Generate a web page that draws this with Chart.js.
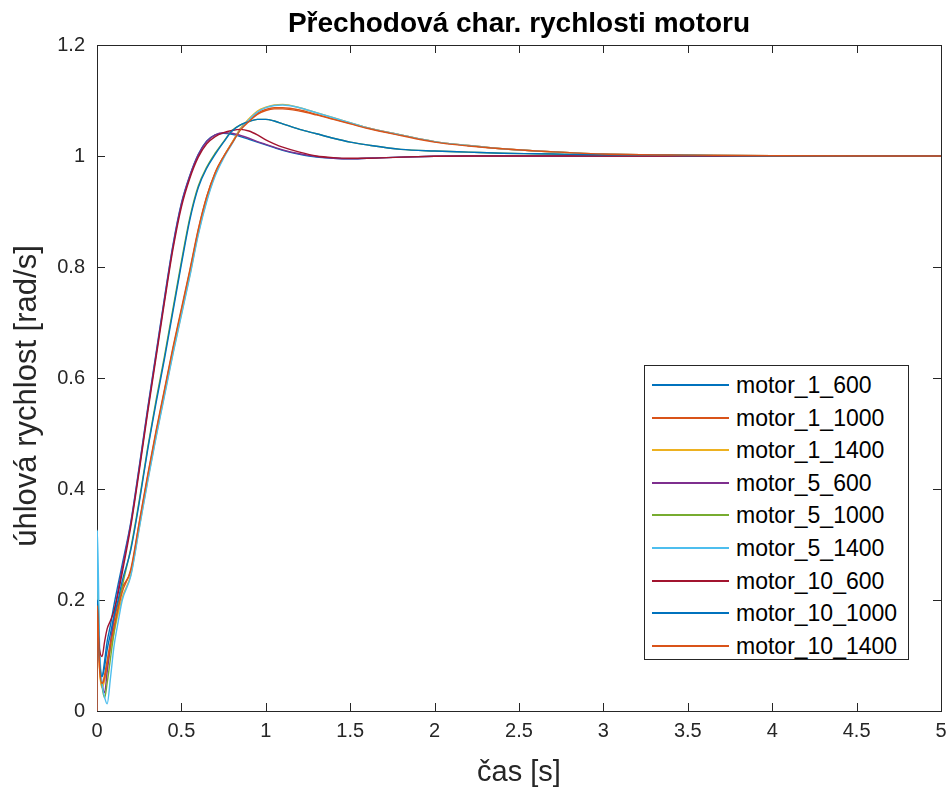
<!DOCTYPE html>
<html><head><meta charset="utf-8">
<script src="https://cdn.jsdelivr.net/npm/chart.js@4/dist/chart.umd.min.js"></script>
<style>
html,body{margin:0;padding:0;background:#fff;}
#wrap{position:relative;width:952px;height:794px;}
#legend{position:absolute;left:644px;top:365px;width:265px;height:295px;box-sizing:border-box;border:1px solid #262626;background:#fff;font-family:"Liberation Sans",Arial,Helvetica,sans-serif;font-size:23px;color:#000;}
.sw{position:absolute;left:7px;width:77px;height:2px;}
.tx{position:absolute;left:91px;line-height:26px;height:26px;white-space:nowrap;}
</style></head><body>
<div id="wrap"><canvas id="c" width="952" height="794"></canvas><div id="legend"></div></div>
<script>
const time = [0, 0.002, 0.015, 0.03, 0.045, 0.06, 0.08, 0.1, 0.125, 0.15, 0.2, 0.25, 0.3, 0.35, 0.4, 0.45, 0.5, 0.55, 0.6, 0.65, 0.7, 0.75, 0.8, 0.85, 0.9, 0.95, 1.0, 1.05, 1.1, 1.2, 1.3, 1.4, 1.5, 1.6, 1.8, 2.0, 2.2, 2.4, 2.6, 2.8, 3.0, 3.5, 4.0, 5.0];

const motor_1_600 = [0, 0.22, 0.1, 0.062, 0.09, 0.125, 0.155, 0.19, 0.228, 0.265,
  0.34, 0.44, 0.545, 0.645, 0.745, 0.84, 0.915, 0.965, 1.003, 1.027, 1.038, 1.041, 1.039, 1.035, 1.03, 1.025, 1.02, 1.015, 1.01, 1.003, 0.998, 0.996, 0.995, 0.996, 0.998, 0.9995, 1.0, 1.0, 1.0, 1.0, 1.0, 1.0, 1.0, 1.0];
const motor_1_1000 = [0, 0.19, 0.08, 0.045, 0.065, 0.09, 0.125, 0.16, 0.195, 0.222,
  0.252, 0.337, 0.422, 0.502, 0.577, 0.652, 0.722, 0.792, 0.866, 0.926, 0.97, 0.999, 1.024, 1.048, 1.064, 1.077, 1.084, 1.087, 1.087, 1.083, 1.075, 1.067, 1.059, 1.051, 1.038, 1.026, 1.019, 1.013, 1.009, 1.006, 1.0036, 1.0015, 1.0005, 1.0];
const motor_1_1400 = [0, 0.18, 0.075, 0.042, 0.055, 0.08, 0.11, 0.14, 0.175, 0.205,
  0.245, 0.33, 0.415, 0.495, 0.57, 0.645, 0.715, 0.785, 0.86, 0.92, 0.966, 0.998, 1.024, 1.05, 1.067, 1.081, 1.088, 1.092, 1.093, 1.087, 1.078, 1.069, 1.06, 1.051, 1.038, 1.026, 1.019, 1.013, 1.009, 1.006, 1.0036, 1.0015, 1.0005, 1.0];
const motor_5_600 = [0, 0.2, 0.09, 0.05, 0.033, 0.07, 0.12, 0.17, 0.218, 0.258,
  0.337, 0.437, 0.542, 0.642, 0.742, 0.837, 0.913, 0.964, 1.002, 1.026, 1.038, 1.042, 1.041, 1.037, 1.032, 1.026, 1.021, 1.016, 1.011, 1.004, 0.999, 0.996, 0.995, 0.996, 0.998, 0.9995, 1.0, 1.0, 1.0, 1.0, 1.0, 1.0, 1.0, 1.0];
const motor_5_1000 = [0, 0.25, 0.1, 0.045, 0.024, 0.05, 0.095, 0.14, 0.185, 0.225,
  0.293, 0.379, 0.474, 0.56, 0.64, 0.725, 0.81, 0.889, 0.946, 0.98, 1.005, 1.026, 1.046, 1.056, 1.062, 1.066, 1.066, 1.063, 1.058, 1.048, 1.04, 1.032, 1.025, 1.02, 1.012, 1.009, 1.007, 1.005, 1.004, 1.003, 1.002, 1.001, 1.0, 1.0];
const motor_5_1400 = [0, 0.326, 0.12, 0.05, 0.025, 0.013, 0.06, 0.115, 0.16, 0.2,
  0.243, 0.328, 0.413, 0.493, 0.568, 0.643, 0.713, 0.783, 0.858, 0.918, 0.964, 0.996, 1.022, 1.048, 1.065, 1.079, 1.087, 1.091, 1.092, 1.087, 1.078, 1.069, 1.06, 1.051, 1.038, 1.026, 1.019, 1.013, 1.009, 1.006, 1.0036, 1.0015, 1.0005, 1.0];
const motor_10_600 = [0, 0.15, 0.11, 0.098, 0.125, 0.148, 0.163, 0.18, 0.212, 0.25,
  0.332, 0.432, 0.537, 0.637, 0.737, 0.832, 0.908, 0.96, 0.998, 1.022, 1.035, 1.042, 1.046, 1.048, 1.045, 1.038, 1.029, 1.022, 1.016, 1.007, 1.0, 0.997, 0.996, 0.996, 0.998, 0.9995, 1.0, 1.0, 1.0, 1.0, 1.0, 1.0, 1.0, 1.0];
const motor_10_1000 = [0, 0.2, 0.09, 0.062, 0.08, 0.11, 0.14, 0.17, 0.2, 0.235,
  0.29, 0.375, 0.47, 0.555, 0.635, 0.72, 0.805, 0.885, 0.943, 0.978, 1.003, 1.025, 1.045, 1.056, 1.062, 1.066, 1.066, 1.063, 1.058, 1.048, 1.04, 1.032, 1.025, 1.02, 1.012, 1.009, 1.007, 1.005, 1.004, 1.003, 1.002, 1.001, 1.0, 1.0];
const motor_10_1400 = [0, 0.19, 0.08, 0.05, 0.06, 0.085, 0.12, 0.15, 0.185, 0.215,
  0.255, 0.34, 0.425, 0.505, 0.58, 0.655, 0.725, 0.795, 0.868, 0.927, 0.97, 0.999, 1.023, 1.047, 1.062, 1.075, 1.082, 1.085, 1.085, 1.081, 1.074, 1.066, 1.058, 1.05, 1.037, 1.025, 1.018, 1.013, 1.009, 1.006, 1.0036, 1.0015, 1.0005, 1.0];

const seriesNames = ["motor_1_600","motor_1_1000","motor_1_1400","motor_5_600","motor_5_1000","motor_5_1400","motor_10_600","motor_10_1000","motor_10_1400"];
const seriesValues = [motor_1_600, motor_1_1000, motor_1_1400, motor_5_600, motor_5_1000, motor_5_1400, motor_10_600, motor_10_1000, motor_10_1400];
const colors = ["#0072BD","#D95319","#EDB120","#7E2F8E","#77AC30","#4DBEEE","#A2142F","#0072BD","#D95319"];
const xTicks = [0, 0.5, 1, 1.5, 2, 2.5, 3, 3.5, 4, 4.5, 5];
const yTicks = [0, 0.2, 0.4, 0.6, 0.8, 1, 1.2];
const yLabel = 'úhlová rychlost [rad/s]';

const FONT = '"Liberation Sans", Arial, Helvetica, sans-serif';
const AX = '#262626';
const fmt = v => String(+Number(v).toFixed(2));

const datasets = seriesNames.map((n, i) => ({
  label: n,
  data: time.map((t, k) => ({x: t, y: seriesValues[i][k]})),
  borderColor: colors[i],
  backgroundColor: colors[i],
  borderWidth: 1.4,
  pointRadius: 0,
  fill: false,
  order: seriesNames.length - i,
  cubicInterpolationMode: 'monotone'
}));

const boxPlugin = {
  id: 'matlabBox',
  beforeDatasetsDraw(chart) {
    const {ctx, chartArea: a, scales} = chart;
    ctx.save();
    ctx.strokeStyle = AX;
    ctx.lineWidth = 1;
    const L = 8;
    ctx.beginPath();
    xTicks.forEach(v => {
      const p = Math.round(scales.x.getPixelForValue(v)) + 0.5;
      ctx.moveTo(p, a.bottom); ctx.lineTo(p, a.bottom - L);
      ctx.moveTo(p, a.top); ctx.lineTo(p, a.top + L);
    });
    yTicks.forEach(v => {
      const p = Math.round(scales.y.getPixelForValue(v)) + 0.5;
      ctx.moveTo(a.left, p); ctx.lineTo(a.left + L, p);
      ctx.moveTo(a.right, p); ctx.lineTo(a.right - L, p);
    });
    ctx.stroke();
    ctx.strokeRect(Math.round(a.left) + 0.5, Math.round(a.top) + 0.5, Math.round(a.right - a.left), Math.round(a.bottom - a.top));
    ctx.fillStyle = AX;
    ctx.font = '31px ' + FONT;
    ctx.textAlign = 'center';
    ctx.textBaseline = 'middle';
    ctx.translate(27, (a.top + a.bottom) / 2 + 18);
    ctx.rotate(-Math.PI / 2);
    ctx.fillText(yLabel, 0, 0);
    ctx.restore();
  }
};

new Chart(document.getElementById('c'), {
  type: 'line',
  data: {datasets},
  options: {
    responsive: false,
    animation: false,
    devicePixelRatio: 1,
    layout: {padding: {left: 0, right: 11, top: 0, bottom: 0}},
    plugins: {
      legend: {display: false},
      tooltip: {enabled: false},
      title: {
        display: true,
        fullSize: false,
        text: 'Přechodová char. rychlosti motoru',
        color: '#000',
        font: {family: FONT, size: 28, weight: 'bold', lineHeight: 1.1},
        padding: {top: 9, bottom: 5.2}
      }
    },
    scales: {
      x: {
        type: 'linear', min: 0, max: 5,
        afterBuildTicks: s => { s.ticks = xTicks.map(v => ({value: v})); },
        afterFit: s => { s.height = 83; s.paddingLeft = 0; s.paddingRight = 0; },
        grid: {display: false, drawTicks: false},
        border: {display: false},
        ticks: {color: AX, font: {family: FONT, size: 20}, padding: 8, maxRotation: 0, autoSkip: false, callback: fmt},
        title: {display: true, text: 'čas [s]', color: AX, font: {family: FONT, size: 29}, padding: {top: 0, bottom: 3.6}}
      },
      y: {
        type: 'linear', min: 0, max: 1.2,
        afterBuildTicks: s => { s.ticks = yTicks.map(v => ({value: v})); },
        afterFit: s => { s.width = 97; s.paddingTop = 0; s.paddingBottom = 0; },
        grid: {display: false, drawTicks: false},
        border: {display: false},
        ticks: {color: AX, font: {family: FONT, size: 20}, padding: 12, autoSkip: false, callback: fmt},
        title: {display: false}
      }
    }
  },
  plugins: [boxPlugin]
});

const lg = document.getElementById('legend');
seriesNames.forEach((n, i) => {
  const cy = Math.round(20 + 32.6 * i) - 1;
  const sw = document.createElement('div');
  sw.className = 'sw';
  sw.style.top = (cy - 1) + 'px';
  sw.style.background = colors[i];
  const tx = document.createElement('div');
  tx.className = 'tx';
  tx.style.top = (cy - 13) + 'px';
  tx.textContent = n;
  lg.appendChild(sw); lg.appendChild(tx);
});
</script>
</body></html>
